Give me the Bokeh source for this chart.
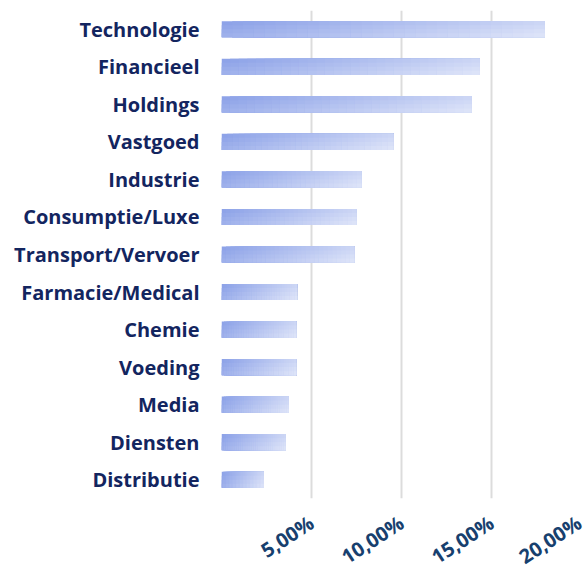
import math
from bokeh.plotting import figure
from bokeh.models import FixedTicker, ColumnDataSource
from bokeh.embed import file_html
from bokeh.resources import INLINE

categories = ["Technologie", "Financieel", "Holdings", "Vastgoed", "Industrie",
              "Consumptie/Luxe", "Transport/Vervoer", "Farmacie/Medical", "Chemie",
              "Voeding", "Media", "Diensten", "Distributie"]
values = [17.96, 14.35, 13.9, 9.55, 7.78, 7.5, 7.38, 4.2, 4.15, 4.15, 3.74, 3.57, 2.35]
x_ticks = [0, 5, 10, 15, 20]
x_tick_labels = ["", "5,00%", "10,00%", "15,00%", "20,00%"]

c0 = (138, 160, 231)
c1 = (224, 230, 249)

def mix(t):
    return "#%02x%02x%02x" % tuple(int(round(a + (b - a) * t)) for a, b in zip(c0, c1))

nx, ny = 30, 4
bar_h = 0.43
ys = list(range(len(categories)))
lefts, rights, tops, bottoms, cols = [], [], [], [], []
for k, v in enumerate(values):
    for i in range(nx):
        for j in range(ny):
            lefts.append(v * i / nx)
            rights.append(v)
            tops.append(ys[k] - bar_h / 2 + bar_h * j / ny)
            bottoms.append(ys[k] + bar_h / 2)
            t = 0.75 * (i + 0.5) / nx + 0.25 * (j + 0.5) / ny
            cols.append(mix(t))

src = ColumnDataSource(dict(left=lefts, right=rights, top=tops, bottom=bottoms, c=cols))

p = figure(frame_width=360, frame_height=488, min_border_left=221, min_border_right=5,
           min_border_top=10, min_border_bottom=66,
           x_range=(0, 20), y_range=(len(categories) - 0.5, -0.5),
           output_backend="svg", toolbar_location=None)
p.outline_line_color = None
p.background_fill_color = "white"

p.quad(left="left", right="right", top="top", bottom="bottom", fill_color="c",
       line_color=None, source=src)

p.xaxis.ticker = FixedTicker(ticks=x_ticks)
p.xaxis.major_label_overrides = {t: l for t, l in zip(x_ticks, x_tick_labels)}
p.xaxis.major_label_orientation = 0.58
p.xaxis.axis_line_color = None
p.xaxis.major_tick_line_color = None
p.xaxis.minor_tick_line_color = None
p.xaxis.major_tick_out = 0
p.xaxis.major_tick_in = 0
p.xaxis.major_label_text_font = "Open Sans"
p.xaxis.major_label_text_font_style = "bold"
p.xaxis.major_label_text_font_size = "20px"
p.xaxis.major_label_text_color = "#17406e"
p.xaxis.major_label_standoff = 22

p.yaxis.ticker = FixedTicker(ticks=ys)
p.yaxis.major_label_overrides = {y: c for y, c in zip(ys, categories)}
p.yaxis.axis_line_color = None
p.yaxis.major_tick_line_color = None
p.yaxis.minor_tick_line_color = None
p.yaxis.major_tick_out = 0
p.yaxis.major_tick_in = 0
p.yaxis.major_label_text_font = "Open Sans"
p.yaxis.major_label_text_font_style = "bold"
p.yaxis.major_label_text_font_size = "20px"
p.yaxis.major_label_text_color = "#13255f"
p.yaxis.major_label_standoff = 22

p.xgrid.grid_line_color = "#dcdcdc"
p.xgrid.grid_line_width = 2
p.ygrid.grid_line_color = None

open("out.html", "w").write(file_html(p, INLINE))
